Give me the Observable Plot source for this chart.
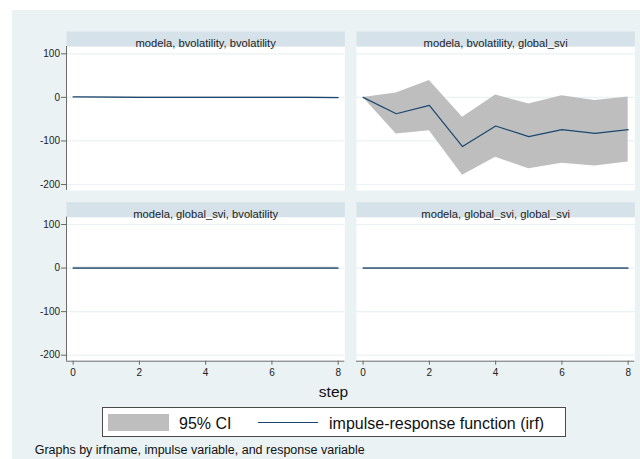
<!DOCTYPE html>
<html>
<head>
<meta charset="utf-8">
<script src="https://cdn.jsdelivr.net/npm/d3@7"></script>
<script src="https://cdn.jsdelivr.net/npm/@observablehq/plot@0.6"></script>
<style>
  html, body { margin: 0; padding: 0; background: #ffffff; width: 640px; height: 459px; overflow: hidden;
    font-family: "Liberation Sans", Arial, Helvetica, sans-serif; }
  #bg { position: absolute; left: 12px; top: 10px; width: 628px; height: 449px; background: #eaf2f3; }
  #chart { position: absolute; left: 0; top: 0; }
  #xlabel { position: absolute; left: 233.5px; width: 200px; top: 383.6px; text-align: center;
    font-size: 15.5px; line-height: 16px; color: #111; }
  #legend { position: absolute; left: 101.7px; top: 407.3px; width: 464px; height: 30px; box-sizing: border-box;
    border: 1px solid #4a4a4a; background: #fff; }
  .sw { position: absolute; left: 108px; top: 414px; width: 61px; height: 17px; background: #bebebe; }
  .ln { position: absolute; left: 258px; top: 421.9px; width: 60px; height: 1.3px; background: #1a476f; }
  .lt { position: absolute; top: 415.8px; font-size: 16px; line-height: 16px; color: #111; white-space: nowrap; }
  #caption { position: absolute; left: 34.7px; top: 443.9px; font-size: 12.5px; line-height: 13px; color: #111; white-space: nowrap; }
</style>
</head>
<body>
<div id="bg"></div>
<div id="chart"></div>
<div id="xlabel"></div>
<div id="legend"></div>
<div class="sw"></div>
<div class="lt" id="lt1" style="left:179px"></div>
<div class="ln"></div>
<div class="lt" id="lt2" style="left:329px"></div>
<div id="caption"></div>
<script>
// ---- data ----
const irfName = "modela";
const steps = [0, 1, 2, 3, 4, 5, 6, 7, 8];
const impulseVars = ["bvolatility", "bvolatility", "global_svi", "global_svi"];
const responseVars = ["bvolatility", "global_svi", "bvolatility", "global_svi"];
const irfValues = [
  [1, 0.5, 0, 0, 0, 0, 0, 0, -0.5],
  [0, -37.5, -18.3, -113, -65.7, -90.2, -74.2, -82.6, -74.2],
  [0, 0, 0, 0, 0, 0, 0, 0, 0],
  [0, 0, 0, 0, 0, 0, 0, 0, 0]
];
const ciLower = [
  [0.3, -0.3, -0.8, -0.8, -0.8, -0.8, -0.8, -0.8, -1.2],
  [0, -84, -76.5, -179, -137.6, -163.6, -151.4, -157.5, -148.3],
  [-2, -2, -2, -2, -2, -2, -2, -2, -2],
  [-1.5, -1.5, -1.5, -1.5, -1.5, -1.5, -1.5, -1.5, -1.5]
];
const ciUpper = [
  [1.7, 1.3, 0.8, 0.8, 0.8, 0.8, 0.8, 0.8, 0.2],
  [0, 10, 39, -45.9, 5.4, -15.3, 3.8, -6.9, 0.8],
  [2, 2, 2, 2, 2, 2, 2, 2, 2],
  [1.5, 1.5, 1.5, 1.5, 1.5, 1.5, 1.5, 1.5, 1.5]
];
const xTicks = [0, 2, 4, 6, 8];
const yTicks = [100, 0, -100, -200];
const xTitle = "step";
const legendLabels = ["95% CI", "impulse-response function (irf)"];
const captionText = "Graphs by irfname, impulse variable, and response variable";

// ---- build tables ----
const rows = [];
const panels = impulseVars.map((imp, p) => ({
  impulse: imp, response: responseVars[p],
  title: `${irfName}, ${imp}, ${responseVars[p]}`
}));
panels.forEach((pn, p) => {
  steps.forEach((s, i) => rows.push({
    impulse: pn.impulse, response: pn.response, step: s,
    irf: irfValues[p][i], lo: ciLower[p][i], hi: ciUpper[p][i]
  }));
});
const leftPanels = panels.filter(d => d.response === responseVars[0]);
const bottomPanels = panels.filter(d => d.impulse === impulseVars[3]);

const xDomain = [-0.2, 8.2];
const yDomain = [-213.8, 116.8];
const navy = "#1a476f";
const axisColor = "#6a6a6a";

const chart = Plot.plot({
  width: 640,
  height: 400,
  marginLeft: 66,
  marginRight: 5.7,
  marginTop: 46,
  marginBottom: 39.3,
  style: { background: "transparent", fontFamily: "'Liberation Sans', Arial, sans-serif", fontSize: "10px", color: "#222" },
  x: { domain: xDomain, label: null },
  y: { domain: yDomain, label: null },
  fx: { domain: [responseVars[0], responseVars[1]], paddingInner: 0.04034, paddingOuter: 0, round: false, axis: null },
  fy: { domain: [impulseVars[0], impulseVars[2]], paddingInner: 0.1564, paddingOuter: 0, round: false, axis: null },
  marks: [
    Plot.frame({ fill: "#ffffff" }),
    Plot.frame({ fill: "#d6e2e9", insetTop: -15, insetBottom: 144 }),
    Plot.gridY(yTicks, { stroke: "#eaf2f3", strokeOpacity: 1, strokeWidth: 1.2 }),
    Plot.areaY(rows, { fx: "response", fy: "impulse", x: "step", y1: "lo", y2: "hi", fill: "#bebebe", fillOpacity: 1 }),
    Plot.lineY(rows, { fx: "response", fy: "impulse", x: "step", y: "irf", stroke: navy, strokeWidth: 1.2 }),
    Plot.ruleX(leftPanels, { fx: "response", fy: "impulse", x: xDomain[0], stroke: axisColor, strokeWidth: 1 }),
    Plot.ruleY(bottomPanels, { fx: "response", fy: "impulse", y: yDomain[0], stroke: axisColor, strokeWidth: 1 }),
    Plot.axisY(yTicks, { anchor: "left", facetAnchor: "left", tickSize: 5, tickPadding: 1.5, stroke: axisColor,
      tickFormat: d => String(d), fontSize: 10, fill: "#222" }),
    Plot.axisX(xTicks, { anchor: "bottom", facetAnchor: "bottom", tickSize: 4, tickPadding: 3.5, stroke: axisColor,
      tickFormat: d => String(d), fontSize: 10, fill: "#222" }),
    Plot.text(panels, { fx: "response", fy: "impulse", text: "title", frameAnchor: "top", dy: -7.5,
      fontSize: 11.2, fill: "#1e1e1e" })
  ]
});
document.getElementById("chart").appendChild(chart);
document.getElementById("xlabel").textContent = xTitle;
document.getElementById("lt1").textContent = legendLabels[0];
document.getElementById("lt2").textContent = legendLabels[1];
document.getElementById("caption").textContent = captionText;
</script>
</body>
</html>
